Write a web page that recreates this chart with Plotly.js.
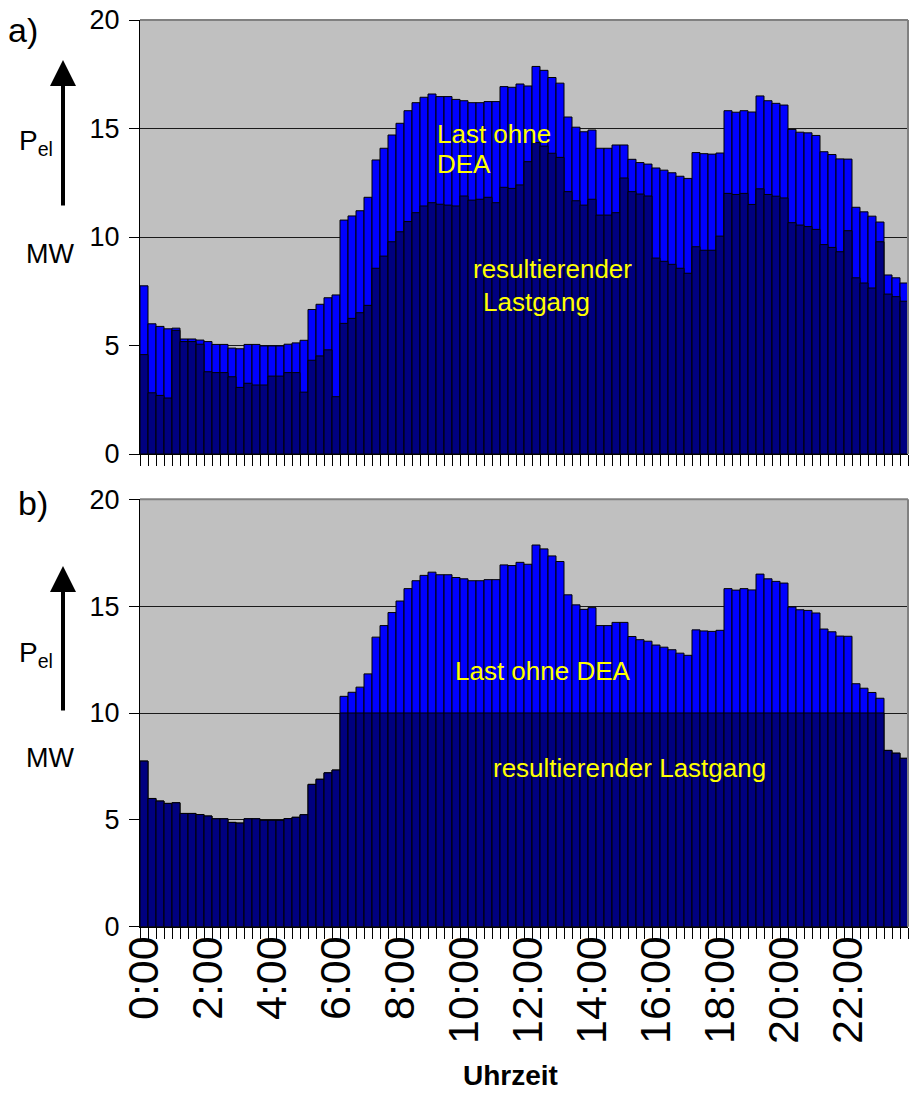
<!DOCTYPE html>
<html><head><meta charset="utf-8">
<script src="https://cdn.plot.ly/plotly-3.0.1.min.js"></script>
<style>html,body{margin:0;padding:0;background:#fff}#chart{width:909px;height:1093px}</style>
</head><body><div id="chart"></div>
<script>
// Load without DEA (light blue), 96 quarter-hour values, MW
const lastOhneDEA = [7.75,6.00,5.88,5.77,5.80,5.30,5.30,5.25,5.18,5.05,5.05,4.88,4.85,5.05,5.05,4.98,
  4.98,4.98,5.06,5.12,5.24,6.66,6.90,7.20,7.33,10.78,10.97,11.21,11.83,13.55,14.09,14.70,
  15.24,15.82,16.19,16.44,16.59,16.47,16.47,16.34,16.28,16.19,16.19,16.24,16.24,16.93,16.90,17.05,
  16.96,17.86,17.68,17.35,17.09,15.53,15.06,14.85,14.93,14.09,14.09,14.24,14.24,13.58,13.43,13.36,
  13.18,13.08,12.96,12.80,12.70,13.89,13.84,13.82,13.87,15.82,15.75,15.82,15.76,16.50,16.28,16.16,
  16.08,14.96,14.83,14.80,14.68,13.93,13.80,13.60,13.59,11.37,11.16,10.96,10.69,8.25,8.12,7.88];
// a) resulting load curve (dark blue)
const resultierenderA = [4.58,2.82,2.70,2.58,5.70,5.18,5.18,5.06,3.79,3.75,3.75,3.56,3.07,3.26,3.18,3.18,
  3.59,3.59,3.75,3.75,2.85,4.32,4.52,4.80,2.64,6.02,6.25,6.51,6.85,8.56,9.12,9.78,
  10.24,10.71,11.12,11.43,11.58,11.51,11.47,11.43,11.89,11.70,11.74,11.83,11.58,12.29,12.24,12.40,
  13.47,14.35,14.19,13.86,13.67,12.09,11.67,11.47,11.74,11.01,11.01,11.12,12.72,12.09,11.98,11.89,
  9.03,8.88,8.74,8.56,8.33,9.55,9.39,9.39,10.04,12.01,11.96,12.01,11.50,12.22,11.96,11.88,
  11.80,10.66,10.55,10.48,10.35,9.65,9.52,9.32,10.29,8.12,7.88,7.65,9.78,7.37,7.25,7.04];
// b) resulting load curve (dark blue), capped at 10 MW
const resultierenderB = [7.75,6.00,5.88,5.77,5.80,5.30,5.30,5.25,5.18,5.05,5.05,4.88,4.85,5.05,5.05,4.98,
  4.98,4.98,5.06,5.12,5.24,6.66,6.90,7.20,7.33,10,10,10,10,10,10,10,
  10,10,10,10,10,10,10,10,10,10,10,10,10,10,10,10,
  10,10,10,10,10,10,10,10,10,10,10,10,10,10,10,10,
  10,10,10,10,10,10,10,10,10,10,10,10,10,10,10,10,
  10,10,10,10,10,10,10,10,10,10,10,10,10,8.25,8.12,7.88];
const timeTickPos = [0,8,16,24,32,40,48,56,64,72,80,88];
const timeTickText = ['0:00','2:00','4:00','6:00','8:00','10:00','12:00','14:00','16:00','18:00','20:00','22:00'];
const yTicks = [0,5,10,15,20];
const slots = lastOhneDEA.map((_, i) => i);

const W = 909, H = 1093;
const px = v => v / W;
const py = v => 1 - v / H;
const FONT = 'Liberation Sans, Arial, sans-serif';
const LIGHT = '#0000FF', DARK = '#000080';

function bar(y, color, xa, ya, name) {
  return {type:'bar', x:slots, y:y, xaxis:xa, yaxis:ya, width:1, name:name,
    marker:{color:color, line:{color:'#000', width:1}}, hoverinfo:'y'};
}
const data = [
  bar(lastOhneDEA, LIGHT, 'x', 'y', 'Last ohne DEA'),
  bar(resultierenderA, DARK, 'x', 'y', 'resultierender Lastgang'),
  bar(lastOhneDEA, LIGHT, 'x2', 'y2', 'Last ohne DEA'),
  bar(resultierenderB, DARK, 'x3', 'y2', 'resultierender Lastgang')
];

const xDom = [px(140), px(908)];
const xBase = {domain:xDom, range:[-0.5, 95.5], tickmode:'linear', tick0:-0.5, dtick:1,
  ticks:'outside', ticklen:11, tickcolor:'#000', tickwidth:1, showticklabels:false,
  showline:true, linecolor:'#000', linewidth:1, showgrid:false, zeroline:false, fixedrange:true};
const yBase = {range:[0,20], tickmode:'array', tickvals:yTicks, ticks:'outside', ticklen:10,
  tickcolor:'#000', showline:true, linecolor:'#000', linewidth:1, showgrid:true,
  gridcolor:'#1a1a1a', gridwidth:1, zeroline:false, fixedrange:true,
  tickfont:{family:FONT, size:27, color:'#000'}, ticklabelstandoff:4};

const yTopDom = [py(454), py(20)];
const yBotDom = [py(926.7), py(499.3)];

const txt = (text, x, y, size, opts) => Object.assign({text:text, x:px(x), y:py(y), xref:'paper', yref:'paper',
  xanchor:'left', yanchor:'middle', showarrow:false, font:{family:FONT, size:size, color:'#000'}}, opts || {});
const yellow = {family:FONT, size:26, color:'#FFFF00'};
const arrow = (x, yHead, yTail) => ({x:px(x), y:py(yHead), ax:px(x), ay:py(yTail), xref:'paper', yref:'paper',
  axref:'paper', ayref:'paper', text:'', showarrow:true, arrowhead:2, arrowsize:1.3, arrowwidth:4, arrowcolor:'#000'});

const layout = {
  width:W, height:H, margin:{l:0, r:0, t:0, b:0}, paper_bgcolor:'#fff', plot_bgcolor:'#C0C0C0',
  barmode:'overlay', bargap:0, showlegend:false, font:{family:FONT, color:'#000'},
  xaxis:Object.assign({}, xBase, {anchor:'y'}),
  yaxis:Object.assign({}, yBase, {domain:yTopDom, anchor:'x'}),
  xaxis2:Object.assign({}, xBase, {anchor:'y2'}),
  xaxis3:{domain:xDom, range:[-0.5, 95.5], overlaying:'x2', anchor:'y2', side:'bottom',
    tickmode:'array', tickvals:timeTickPos, ticktext:timeTickText, tickangle:-90, ticks:'',
    showline:false, showgrid:false, zeroline:false, fixedrange:true,
    tickfont:{family:FONT, size:43, color:'#000'}},
  yaxis2:Object.assign({}, yBase, {domain:yBotDom, anchor:'x2'}),
  shapes:[
    {type:'line', xref:'paper', yref:'paper', x0:xDom[0], x1:xDom[1], y0:yTopDom[1], y1:yTopDom[1], line:{color:'#808080', width:2}},
    {type:'line', xref:'paper', yref:'paper', x0:xDom[1], x1:xDom[1], y0:yTopDom[0], y1:yTopDom[1], line:{color:'#808080', width:2}},
    {type:'line', xref:'paper', yref:'paper', x0:xDom[0], x1:xDom[1], y0:yBotDom[1], y1:yBotDom[1], line:{color:'#808080', width:2}},
    {type:'line', xref:'paper', yref:'paper', x0:xDom[1], x1:xDom[1], y0:yBotDom[0], y1:yBotDom[1], line:{color:'#808080', width:2}}
  ],
  annotations:[
    txt('a)', 6, 30, 34),
    txt('P<sub>el</sub>', 17, 142, 28),
    arrow(63, 60, 207),
    txt('MW', 24, 254, 27),
    txt('b)', 16, 503, 34),
    txt('P<sub>el</sub>', 17, 654, 28),
    arrow(63, 566, 712),
    txt('MW', 24, 758, 27),
    txt('Last ohne', 435, 134, 26, {font:yellow}),
    txt('DEA', 435, 164, 26, {font:yellow}),
    txt('resultierender', 471, 269, 26, {font:yellow}),
    txt('Lastgang', 481, 302, 26, {font:yellow}),
    txt('Last ohne DEA', 453, 671, 26, {font:yellow}),
    txt('resultierender Lastgang', 491, 768, 26, {font:yellow}),
    txt('<b>Uhrzeit</b>', 510, 1075, 28, {xanchor:'center'})
  ]
};

Plotly.newPlot('chart', data, layout, {displayModeBar:false, staticPlot:true});
</script>
</body></html>
